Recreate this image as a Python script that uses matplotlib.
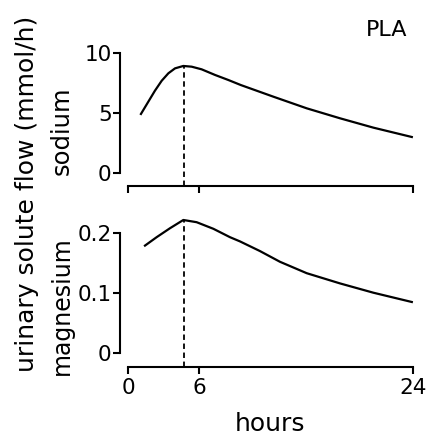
import matplotlib.pyplot as plt

hours_na = [1.09, 1.71, 2.27, 2.84, 3.40, 3.96, 4.66, 5.36, 6.2, 7.33, 8.45, 9.5,
            12.24, 15.05, 17.85, 20.66, 23.9]
sodium = [4.92, 5.94, 6.86, 7.69, 8.31, 8.72, 8.92, 8.86, 8.64, 8.17, 7.75, 7.33,
          6.36, 5.39, 4.56, 3.78, 3.0]

hours_mg = [1.43, 2.41, 3.54, 4.66, 5.78, 7.19, 8.59, 9.43, 11.1, 12.8, 15.05, 17.85,
            20.66, 23.9]
magnesium = [0.179, 0.193, 0.208, 0.2217, 0.218, 0.207, 0.193, 0.186, 0.17, 0.152,
             0.133, 0.116, 0.1005, 0.085]

peak_hour = 4.7
x_ticks = [0, 6, 24]
x_ticklabels = ["0", "6", "24"]
na_ticks = [0, 5, 10]
na_ticklabels = ["0", "5", "10"]
mg_ticks = [0, 0.1, 0.2]
mg_ticklabels = ["0", "0.1", "0.2"]

W, H = 428, 437
fig = plt.figure(figsize=(W / 100, H / 100), dpi=100)

ax1 = fig.add_axes([128 / W, 1 - 173 / H, 285 / W, 120 / H])
ax2 = fig.add_axes([128 / W, 1 - 353 / H, 285 / W, 120 / H])

px = 72 / 100  # pixels -> points


def style(ax, yticks, ylabels, ylim, xoff_px, show_xlabels):
    ax.set_xlim(0, 24)
    ax.set_ylim(*ylim)
    for s in ["top", "right"]:
        ax.spines[s].set_visible(False)
    ax.spines["left"].set_position(("outward", 8 * px))
    ax.spines["bottom"].set_position(("outward", xoff_px * px))
    ax.spines["left"].set_bounds(ylim[0], ylim[1])
    ax.spines["bottom"].set_bounds(0, 24)
    for s in ["left", "bottom"]:
        ax.spines[s].set_linewidth(1.5)
    ax.set_yticks(yticks)
    ax.set_yticklabels(ylabels)
    ax.set_xticks(x_ticks)
    if show_xlabels:
        ax.set_xticklabels(x_ticklabels)
    else:
        ax.set_xticklabels([])
    ax.tick_params(axis="y", length=5, width=1.5, pad=1, labelsize=15.5)
    ax.tick_params(axis="x", length=5, width=1.5, pad=3, labelsize=15.5)


style(ax1, na_ticks, na_ticklabels, (0, 10), 13, False)
style(ax2, mg_ticks, mg_ticklabels, (0, 0.2), 14, True)

ax1.plot(hours_na, sodium, color="black", lw=1.6, clip_on=False, solid_joinstyle="round")
ax2.plot(hours_mg, magnesium, color="black", lw=1.6, clip_on=False, solid_joinstyle="round")

# dashed line from the peak down to the x axis
na_peak = max(sodium)
mg_peak = max(magnesium)
ax1.vlines(peak_hour, -13 * 10 / 120, na_peak, colors="black", linestyles=(0, (3, 2)),
           lw=1.3, clip_on=False)
ax2.vlines(peak_hour, -14 * 0.2 / 120, mg_peak, colors="black", linestyles=(0, (3, 2)),
           lw=1.3, clip_on=False)

ax2.set_xlabel("hours", fontsize=18, labelpad=10)

fig.text(62 / W, 1 - 131 / H, "sodium", rotation=90, ha="center", va="center", fontsize=17.5)
fig.text(62 / W, 1 - 306 / H, "magnesium", rotation=90, ha="center", va="center", fontsize=17)
fig.text(27 / W, 1 - 194 / H, "urinary solute flow (mmol/h)", rotation=90,
         ha="center", va="center", fontsize=18)
fig.text(387 / W, 1 - 30 / H, "PLA", ha="center", va="center", fontsize=16)

fig.savefig("out.png", dpi=100)
